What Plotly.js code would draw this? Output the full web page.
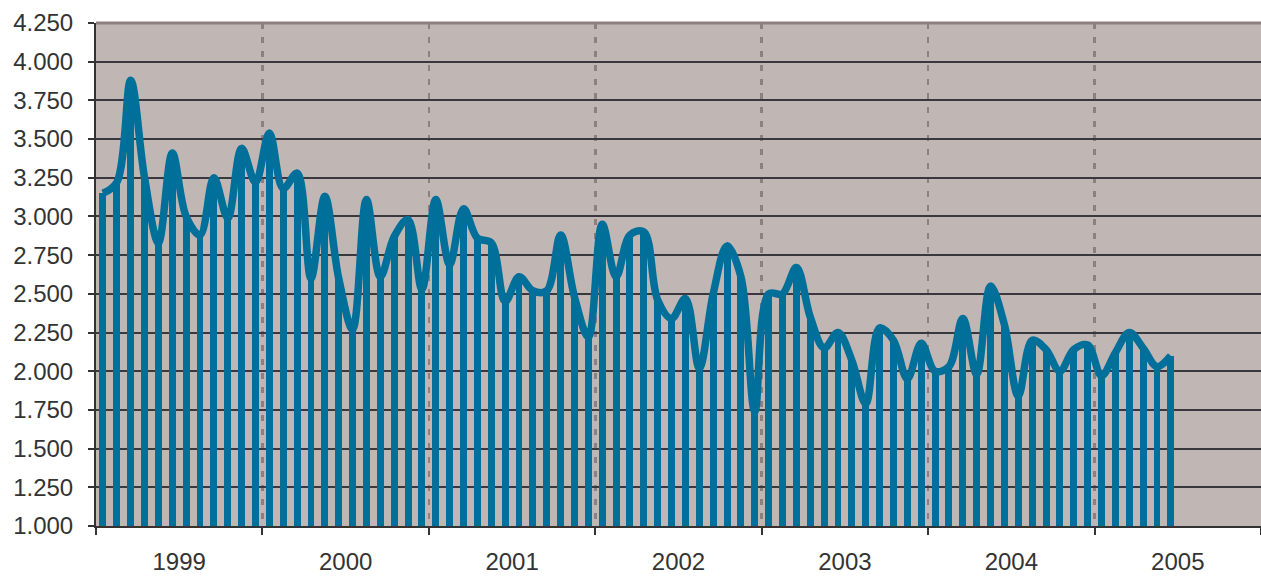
<!DOCTYPE html>
<html>
<head>
<meta charset="utf-8">
<script src="https://cdn.plot.ly/plotly-3.0.1.min.js"></script>
<style>html,body{margin:0;padding:0;background:#fff;}#chart{width:1261px;height:576px;}</style>
</head>
<body>
<div id="chart"></div>
<script>
const years = ["1999","2000","2001","2002","2003","2004","2005"];
const values = [
  3.15, 3.22, 3.88, 3.25, 2.83, 3.41, 3.00, 2.88, 3.25, 2.99, 3.44, 3.22,
  3.54, 3.18, 3.28, 2.60, 3.13, 2.60, 2.27, 3.11, 2.61, 2.87, 2.98, 2.53,
  3.11, 2.69, 3.05, 2.86, 2.83, 2.45, 2.61, 2.52, 2.52, 2.88, 2.48, 2.22,
  2.95, 2.61, 2.88, 2.90, 2.46, 2.34, 2.47, 2.02, 2.50, 2.81, 2.61, 1.74,
  2.50, 2.50, 2.67, 2.35, 2.15, 2.25, 2.07, 1.79, 2.28, 2.20, 1.95, 2.18,
  2.00, 2.03, 2.34, 1.98, 2.55, 2.30, 1.84, 2.20, 2.14, 2.00, 2.14, 2.17,
  1.97, 2.12, 2.25, 2.15, 2.03, 2.10
];
const yTicks = [1.0,1.25,1.5,1.75,2.0,2.25,2.5,2.75,3.0,3.25,3.5,3.75,4.0,4.25];

const monthIdx = values.map((v,i)=>i);
const yearCenters = years.map((y,i)=>i*12+5.5);
const blue = "#00709B";

const traces = [
  {type:"bar", x:monthIdx, y:values, width:0.5, marker:{color:blue, line:{width:0}}, hoverinfo:"y", showlegend:false},
  {type:"scatter", mode:"lines", x:monthIdx, y:values, line:{color:blue, width:7.5, shape:"spline", smoothing:1}, hoverinfo:"skip", showlegend:false}
];

const layout = {
  width:1261, height:576,
  margin:{l:96, r:0, t:23, b:50, pad:0},
  paper_bgcolor:"#ffffff",
  plot_bgcolor:"#C0B6B4",
  font:{family:"Liberation Sans, Arial, sans-serif", size:24, color:"#333333"},
  xaxis:{
    range:[-0.5, years.length*12-0.5],
    tickmode:"array", tickvals:yearCenters, ticktext:years,
    ticks:"", showgrid:false, zeroline:false,
    showline:true, linecolor:"#333333", linewidth:2,
    ticklabelstandoff:13,
    tickfont:{size:24, color:"#333333"},
    minor:{tickmode:"linear", tick0:-0.5, dtick:12, ticks:"outside", ticklen:7, tickwidth:2, tickcolor:"#333333",
           showgrid:true, gridcolor:"#8C8080", gridwidth:2.5, griddash:"6px,8px"},
    fixedrange:true
  },
  yaxis:{
    range:[1.0, 4.25],
    tickmode:"array", tickvals:yTicks,
    tickformat:".3f",
    ticks:"outside", ticklen:6, tickwidth:2, tickcolor:"#333333",
    showgrid:true, gridcolor:"#38383E", gridwidth:2,
    zeroline:false, showline:true, linecolor:"#333333", linewidth:2,
    ticklabelstandoff:10,
    tickfont:{size:24, color:"#333333"},
    fixedrange:true
  },
  shapes:[
    {type:"line", xref:"paper", yref:"paper", x0:0, x1:1, y0:1, y1:1, layer:"above",
     line:{color:"#8C8080", width:3}}
  ],
  bargap:0,
  showlegend:false
};

Plotly.newPlot("chart", traces, layout, {staticPlot:true});
</script>
</body>
</html>
